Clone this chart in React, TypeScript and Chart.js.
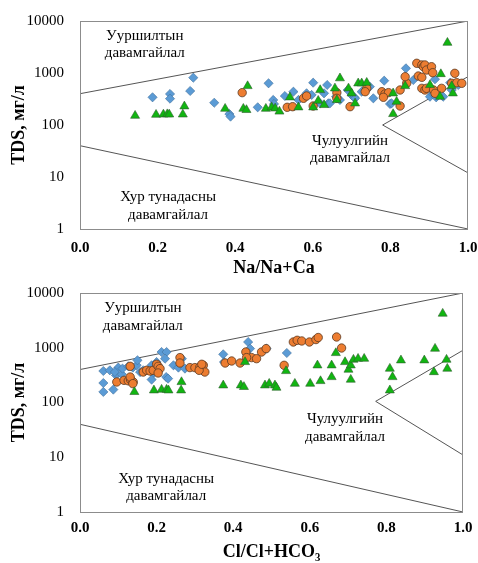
import React, { useEffect, useRef } from 'react';
import { Chart, registerables } from 'chart.js';

Chart.register(...registerables);

// ---------- axis ticks ----------
const TDS_TICKS = [1, 10, 100, 1000, 10000];
const RATIO_MIN = 0;
const RATIO_MAX = 1;
const RATIO_STEP = 0.2;

// ---------- Gibbs boundary lines (data units) ----------
const UPPER_BOUND: [number, number][] = [[0, 400], [1, 10000]];
const LOWER_BOUND: [number, number][] = [[0, 40], [1, 1]];
const ROCK_BOUND_NA: [number, number][] = [[1, 850], [0.78, 100], [1, 12]];
const ROCK_BOUND_CL: [number, number][] = [[1, 900], [0.772, 105], [1, 11]];

// ---------- region labels ----------
const REGION_TEXT = [
  ['Ууршилтын', 'давамгайлал'],
  ['Чулуулгийн', 'давамгайлал'],
  ['Хур тунадасны', 'давамгайлал'],
];
const REGION_POS_NA: [number, number][] = [[0.167, 3530], [0.696, 33.8], [0.227, 2.77]];
const REGION_POS_CL: [number, number][] = [[0.164, 3600], [0.692, 33.8], [0.225, 2.77]];

// ---------- Na/(Na+Ca) series ----------
const NA_BLUE: [number, number][] = [
  [0.187, 341], [0.232, 395], [0.232, 321], [0.284, 451], [0.292, 813], [0.346, 268],
  [0.385, 163], [0.388, 145], [0.458, 219], [0.486, 634], [0.498, 303], [0.5, 254],
  [0.528, 361], [0.55, 437], [0.563, 303], [0.584, 407], [0.597, 378], [0.601, 651],
  [0.619, 261], [0.629, 407], [0.637, 588], [0.64, 261], [0.644, 261], [0.66, 350],
  [0.67, 303], [0.69, 471], [0.7, 378], [0.707, 341], [0.709, 326], [0.726, 437],
  [0.747, 546], [0.756, 326], [0.784, 711], [0.799, 254], [0.803, 261], [0.84, 1230],
  [0.859, 733], [0.902, 350], [0.911, 389], [0.915, 758], [0.918, 341], [0.936, 350],
  [0.954, 651], [0.958, 471], [0.975, 588],
];
const NA_ORANGE: [number, number][] = [
  [0.418, 419], [0.534, 219], [0.548, 225], [0.576, 326], [0.584, 361], [0.601, 232],
  [0.662, 419], [0.662, 326], [0.696, 225], [0.739, 507], [0.735, 437], [0.778, 437],
  [0.786, 395], [0.795, 419], [0.782, 341], [0.825, 471], [0.825, 232], [0.842, 634],
  [0.838, 849], [0.868, 1537], [0.881, 1426], [0.885, 1321], [0.889, 1426], [0.893, 1142],
  [0.906, 1321], [0.909, 1014], [0.872, 875], [0.881, 826], [0.881, 507], [0.889, 471],
  [0.893, 507], [0.911, 471], [0.915, 407], [0.932, 507], [0.966, 986], [0.958, 634],
  [0.971, 651], [0.984, 634],
];
const NA_GREEN: [number, number][] = [
  [0.142, 151], [0.196, 158], [0.215, 160], [0.225, 162], [0.23, 160], [0.265, 160],
  [0.269, 229], [0.374, 206], [0.421, 206], [0.429, 195], [0.432, 562], [0.479, 206],
  [0.494, 219], [0.503, 209], [0.514, 182], [0.541, 341], [0.563, 219], [0.601, 219],
  [0.619, 471], [0.614, 293], [0.629, 243], [0.657, 507], [0.662, 303], [0.67, 794],
  [0.692, 507], [0.7, 407], [0.709, 261], [0.717, 634], [0.726, 634], [0.739, 651],
  [0.807, 407], [0.816, 281], [0.807, 163], [0.838, 562], [0.902, 588], [0.928, 350],
  [0.93, 955], [0.947, 3828], [0.958, 562], [0.961, 407],
];

// ---------- Cl/(Cl+HCO3) series ----------
const CL_BLUE: [number, number][] = [
  [0.061, 376], [0.061, 227], [0.061, 156], [0.087, 172], [0.078, 387], [0.1, 434],
  [0.094, 314], [0.091, 360], [0.109, 327], [0.111, 416], [0.126, 458], [0.138, 434],
  [0.148, 478], [0.15, 590], [0.157, 360], [0.165, 387], [0.187, 478], [0.191, 337],
  [0.187, 262], [0.2, 549], [0.213, 836], [0.226, 836], [0.222, 632], [0.225, 292],
  [0.23, 273], [0.244, 478], [0.266, 632], [0.257, 434], [0.274, 416], [0.374, 759],
  [0.376, 549], [0.439, 1273], [0.444, 964], [0.487, 964], [0.54, 802],
];
const CL_ORANGE: [number, number][] = [
  [0.096, 237], [0.115, 254], [0.126, 249], [0.132, 262], [0.139, 237], [0.131, 458],
  [0.131, 292], [0.138, 221], [0.165, 360], [0.174, 387], [0.183, 376], [0.191, 387],
  [0.2, 499], [0.204, 458], [0.209, 416], [0.204, 346], [0.261, 661], [0.261, 526],
  [0.287, 434], [0.3, 434], [0.313, 444], [0.322, 478], [0.326, 360], [0.311, 387],
  [0.318, 499], [0.379, 526], [0.396, 573], [0.418, 526], [0.433, 836], [0.448, 661],
  [0.435, 661], [0.461, 632], [0.474, 836], [0.486, 964], [0.533, 478], [0.557, 1273],
  [0.567, 1369], [0.579, 1330], [0.599, 1273], [0.616, 1411], [0.622, 1538], [0.67, 1572],
  [0.683, 989],
];
const CL_GREEN: [number, number][] = [
  [0.142, 156], [0.193, 167], [0.213, 172], [0.226, 172], [0.231, 167], [0.265, 237],
  [0.264, 167], [0.374, 206], [0.42, 206], [0.428, 193], [0.431, 549], [0.483, 206],
  [0.494, 221], [0.509, 206], [0.513, 187], [0.538, 376], [0.561, 221], [0.601, 221],
  [0.62, 478], [0.628, 247], [0.657, 292], [0.657, 478], [0.668, 802], [0.692, 549],
  [0.701, 399], [0.707, 478], [0.714, 607], [0.726, 632], [0.742, 632], [0.707, 262],
  [0.809, 416], [0.816, 292], [0.809, 167], [0.838, 590], [0.899, 590], [0.927, 964],
  [0.924, 360], [0.947, 4207], [0.957, 607], [0.959, 416],
];

const SERIF = '"Liberation Serif", "Times New Roman", "DejaVu Serif", serif';
const toPts = (a: [number, number][]) => a.map(([x, y]) => ({ x, y }));

const decorPlugin = {
  id: 'gibbsDecor',
  beforeDatasetsDraw(chart: any, _args: any, opts: any) {
    const { ctx } = chart;
    const xs = chart.scales.x;
    const ys = chart.scales.y;
    ctx.save();
    ctx.fillStyle = '#000';
    ctx.font = `15px ${SERIF}`;
    ctx.textAlign = 'center';
    ctx.textBaseline = 'middle';
    const lh = 17.5;
    (opts.positions || []).forEach((p: [number, number], i: number) => {
      const lines = REGION_TEXT[i];
      const cx = xs.getPixelForValue(p[0]);
      const cy = ys.getPixelForValue(p[1]);
      const start = cy - ((lines.length - 1) * lh) / 2;
      lines.forEach((t, j) => ctx.fillText(t, cx, start + j * lh));
    });
    ctx.restore();
  },
  afterDraw(chart: any) {
    const { ctx, chartArea: a } = chart;
    ctx.save();
    ctx.strokeStyle = '#8c8c8c';
    ctx.lineWidth = 1;
    ctx.strokeRect(Math.round(a.left) + 0.5, Math.round(a.top) + 0.5,
      Math.round(a.right - a.left) - 1, Math.round(a.bottom - a.top));
    ctx.restore();
  },
};

type Cfg = {
  height: number;
  pad: { top: number; right: number };
  xHeight: number;
  tickPad: number;
  titlePad: number;
  title: string;
  blue: [number, number][];
  orange: [number, number][];
  green: [number, number][];
  rock: [number, number][];
  labels: [number, number][];
};

function makeConfig(c: Cfg): any {
  const line = (d: [number, number][]) => ({
    type: 'line',
    data: toPts(d),
    showLine: true,
    borderColor: '#555555',
    borderWidth: 1,
    pointRadius: 0,
    fill: false,
    order: 5,
  });
  return {
    type: 'scatter',
    data: {
      datasets: [
        line(UPPER_BOUND),
        line(LOWER_BOUND),
        line(c.rock),
        {
          data: toPts(c.blue),
          pointStyle: 'rectRot',
          pointRadius: 4.6,
          backgroundColor: '#5b9bd5',
          borderColor: '#41719c',
          borderWidth: 0.6,
          order: 3,
        },
        {
          data: toPts(c.orange),
          pointStyle: 'circle',
          pointRadius: 4.2,
          backgroundColor: '#ed7d31',
          borderColor: '#5a3a22',
          borderWidth: 0.8,
          order: 2,
        },
        {
          data: toPts(c.green),
          pointStyle: 'triangle',
          pointRadius: 5.2,
          backgroundColor: '#11b511',
          borderColor: '#2f5e2f',
          borderWidth: 0.6,
          order: 1,
        },
      ],
    },
    options: {
      responsive: false,
      animation: false,
      events: [],
      layout: { padding: { left: 0, top: c.pad.top, right: c.pad.right, bottom: 0 } },
      plugins: {
        legend: { display: false },
        tooltip: { enabled: false },
        gibbsDecor: { positions: c.labels },
      },
      scales: {
        x: {
          type: 'linear',
          min: RATIO_MIN,
          max: RATIO_MAX,
          grid: { display: false, drawTicks: false },
          border: { display: false },
          ticks: {
            stepSize: RATIO_STEP,
            padding: c.tickPad,
            color: '#000',
            font: { family: SERIF, size: 15, weight: 'bold' },
            callback: (v: number) => v.toFixed(1),
          },
          title: {
            display: true,
            text: c.title,
            color: '#000',
            font: { family: SERIF, size: 18, weight: 'bold' },
            padding: { top: 0, bottom: c.titlePad },
          },
          afterFit: (s: any) => {
            s.height = c.xHeight;
            s.paddingLeft = 0;
            s.paddingRight = 0;
          },
        },
        y: {
          type: 'logarithmic',
          min: 1,
          max: 10000,
          grid: { display: false, drawTicks: false },
          border: { display: false },
          afterBuildTicks: (s: any) => { s.ticks = TDS_TICKS.map((v) => ({ value: v })); },
          ticks: {
            padding: 16,
            color: '#000',
            font: { family: SERIF, size: 15 },
            callback: (v: number) => String(v),
          },
          title: {
            display: true,
            text: 'TDS, мг/л',
            color: '#000',
            font: { family: SERIF, size: 18, weight: 'bold' },
            padding: { top: 9, bottom: 0 },
          },
          afterFit: (s: any) => {
            s.width = 80;
            s.paddingTop = 0;
            s.paddingBottom = 0;
          },
        },
      },
    },
    plugins: [decorPlugin],
  };
}

function GibbsChart({ cfg, top }: { cfg: Cfg; top: number }) {
  const ref = useRef<HTMLCanvasElement | null>(null);
  useEffect(() => {
    if (!ref.current) return;
    const chart = new Chart(ref.current, makeConfig(cfg));
    return () => chart.destroy();
  }, []);
  return (
    <canvas
      ref={ref}
      width={478}
      height={cfg.height}
      style={{ position: 'absolute', left: 0, top, width: 478, height: cfg.height, display: 'block' }}
    />
  );
}

const TOP_CFG: Cfg = {
  height: 282,
  pad: { top: 21, right: 10 },
  xHeight: 53,
  tickPad: 10,
  titlePad: 3,
  title: 'Na/Na+Ca',
  blue: NA_BLUE,
  orange: NA_ORANGE,
  green: NA_GREEN,
  rock: ROCK_BOUND_NA,
  labels: REGION_POS_NA,
};

const BOTTOM_CFG: Cfg = {
  height: 281,
  pad: { top: 11, right: 15 },
  xHeight: 51,
  tickPad: 7,
  titlePad: 0,
  title: 'Cl/Cl+HCO₃',
  blue: CL_BLUE,
  orange: CL_ORANGE,
  green: CL_GREEN,
  rock: ROCK_BOUND_CL,
  labels: REGION_POS_CL,
};

export default function App() {
  return (
    <div style={{ position: 'absolute', left: 0, top: 0, width: 478, height: 563, background: '#fff' }}>
      <GibbsChart cfg={TOP_CFG} top={0} />
      <GibbsChart cfg={BOTTOM_CFG} top={282} />
    </div>
  );
}
